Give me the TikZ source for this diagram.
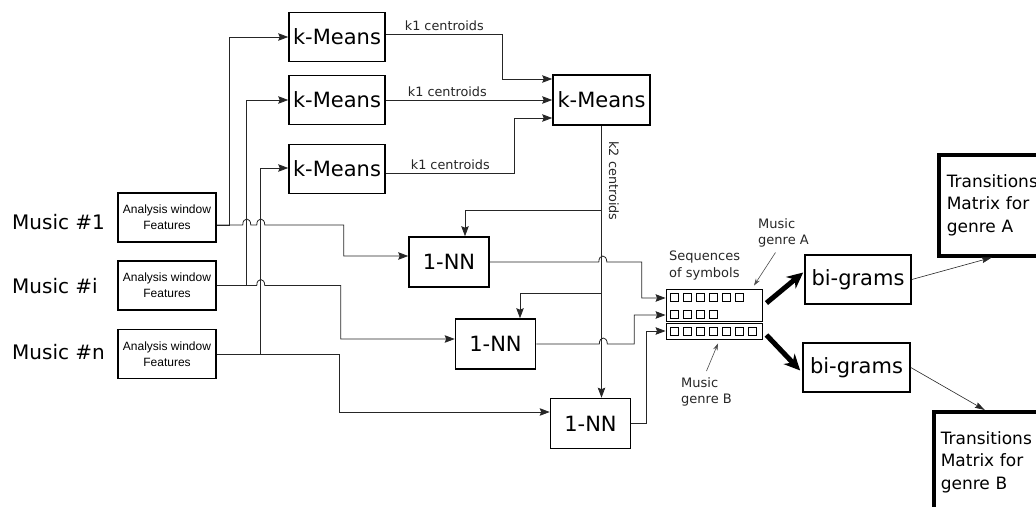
\documentclass[tikz,border=0pt]{standalone}
\usepackage{fontspec}
\setmainfont{DejaVu Sans}
\newfontfamily\arialfont{Liberation Sans}
\usetikzlibrary{arrows.meta}

% small bridge where a line jumps over another one
\newcommand{\hop}{.. controls +(0,-8) and +(0,-8) .. ++(8,0)}

\begin{document}
\begin{tikzpicture}[x=1pt,y=-1pt]
\tikzset{
  featbox/.style={draw=black,line width=1.5pt,minimum width=98pt,minimum height=49pt,align=center,inner sep=1pt,font=\arialfont\fontsize{12}{16}\selectfont},
  procbox/.style={draw=black,line width=1.6pt,minimum height=49pt,inner sep=1pt,font=\fontsize{21}{25}\selectfont},
  musiclbl/.style={anchor=west,inner sep=0pt,font=\fontsize{20}{24}\selectfont},
  smalllbl/.style={inner sep=1pt,font=\fontsize{12.8}{16}\selectfont,text=black!85},
  notelbl/.style={anchor=north west,align=left,inner sep=0pt,font=\fontsize{13}{16.5}\selectfont,text=black!85},
  matbox/.style={draw=black,line width=3.5pt,anchor=north west,text width=96pt,minimum height=101pt,align=left,inner xsep=8pt,font=\fontsize{17}{22.5}\selectfont},
  seqbox/.style={draw=black,line width=0.9pt,minimum width=96pt,inner sep=0pt},
  symbox/.style={draw=black,line width=0.9pt,minimum size=8pt,inner sep=0pt},
  link/.style={draw=black!85,line width=0.8pt},
  flow/.style={link,-{Stealth[length=10pt,width=7.5pt,inset=1.5pt]}},
  thinflow/.style={draw=black!85,line width=0.6pt,-{Stealth[length=10pt,width=6pt,inset=1.5pt]}},
  pointer/.style={draw=black!70,line width=0.6pt,-{Stealth[length=7pt,width=4.5pt]}},
  fatarrow/.style={draw=black,line width=5pt,-{Stealth[length=16pt,width=15pt,inset=5pt]}}
}
\useasboundingbox (0,0) rectangle (1036,506);

% inputs
\node[musiclbl] (mus1) at (12,222) {Music \#1};
\node[musiclbl] (musi) at (12,286) {Music \#i};
\node[musiclbl] (musn) at (12,352) {Music \#n};
\node[featbox] (feat1) at (167,217.5) {Analysis window\\Features};
\node[featbox] (feati) at (167,285.5) {Analysis window\\Features};
\node[featbox] (featn) at (167,354) {Analysis window\\Features};

% clustering
\node[procbox,minimum width=96pt] (km1) at (337,37) {k-Means};
\node[procbox,minimum width=96pt] (km2) at (337,100) {k-Means};
\node[procbox,minimum width=96pt] (km3) at (337,169) {k-Means};
\node[procbox,minimum width=97pt,minimum height=50pt] (kmtop) at (601.5,100) {k-Means};

% nearest neighbour
\node[procbox,minimum width=80pt,minimum height=50pt] (nn1) at (449,262) {1-NN};
\node[procbox,minimum width=80pt,minimum height=50pt] (nn2) at (495.5,344) {1-NN};
\node[procbox,minimum width=80pt,minimum height=50pt] (nn3) at (590.5,423.5) {1-NN};

% symbol sequences
\node[seqbox,minimum height=32pt] (seqA) at (714,305) {};
\node[seqbox,minimum height=16pt] (seqB) at (714,331) {};
\foreach \i in {0,...,5} \node[symbox] (sa\i) at (674+13*\i,297) {};
\foreach \i in {0,...,3} \node[symbox] (sb\i) at (674+13*\i,314) {};
\foreach \i in {0,...,6} \node[symbox] (sc\i) at (674+13*\i,331) {};
\node[notelbl] (seqlbl) at (669,251) {Sequences\\of symbols};
\node[notelbl] (genA) at (758,218) {Music\\genre A};
\node[notelbl] (genB) at (681,377) {Music\\genre B};

% models
\node[procbox,minimum width=106pt] (bgA) at (858,279.5) {bi-grams};
\node[procbox,minimum width=107pt] (bgB) at (856.5,367.5) {bi-grams};
\node[matbox] (matA) at (937,153) {Transitions\\Matrix for\\genre A};
\node[matbox,inner xsep=7pt] (matB) at (932,410) {Transitions\\Matrix for\\genre B};

% features to first k-Means layer
\draw[flow] ([yshift=-7.5pt]feat1.east) -- ++(13,0) |- (km1.west);
\draw[flow] (feati.east) -- ++(30,0) |- (km2.west);
\draw[flow] (featn.east) -- ++(44,0) |- ([yshift=1pt]km3.west);

% features to 1-NN
\draw[flow] ([yshift=-7.5pt]feat1.east) -- ++(26,0) \hop -- ++(6,0) \hop -- ++(79,0) |- ([yshift=6pt]nn1.west);
\draw[flow] (feati.east) -- ++(40,0) \hop -- ++(76,0) |- ([yshift=5pt]nn2.west);
\draw[flow] (featn.east) -- ++(123,0) |- ([yshift=11.5pt]nn3.west);

% k1 centroids
\draw[flow] ([yshift=3pt]km1.east) -- node[smalllbl,above=2pt] {k1 centroids} ++(117,0) |- ([yshift=21pt]kmtop.west);
\draw[flow] (km2.east) -- node[smalllbl,above=2pt,pos=0.37] {k1 centroids} (kmtop.west);
\draw[flow] ([yshift=-4pt]km3.east) -- node[smalllbl,above=2pt] {k1 centroids} ++(129,0) |- ([yshift=-18pt]kmtop.west);

% k2 centroids
\node[smalllbl,rotate=-90] (k2lbl) at (614,181) {k2 centroids};
\coordinate (split1) at (kmtop.south |- 0,210);
\coordinate (split2) at (kmtop.south |- 0,293);
\draw[flow] (kmtop.south) -- (kmtop.south |- nn3.north);
\draw[flow] (split1) -| ([xshift=16pt]nn1.north);
\draw[flow] (split2) -| ([xshift=24.5pt]nn2.north);

% 1-NN to sequences
\draw[flow] (nn1.east) -- ++(109,0) \hop -- ++(35,0) |- ([yshift=7pt]seqA.west);
\draw[flow] (nn2.east) -- ++(63,0) \hop -- ++(27,0) |- ([yshift=-10pt]seqA.west);
\draw[flow] (nn3.east) -- ++(15,0) |- (seqB.west);

\draw[pointer] ([xshift=-8pt,yshift=-5pt]genA.south) -- ([xshift=40pt,yshift=3pt]seqA.north);
\draw[pointer] ([yshift=6pt]genB.north) -- ([xshift=4pt,yshift=-4pt]seqB.south);

% genres
\draw[fatarrow] ([xshift=4pt,yshift=2pt]seqA.east) -- ([xshift=-1pt,yshift=7pt]bgA.west);
\draw[fatarrow] ([xshift=4pt,yshift=-4pt]seqB.east) -- ([xshift=-2pt,yshift=-3pt]bgB.west);
\draw[thinflow] (bgA.east) -- ([xshift=-3pt]matA.south);
\draw[thinflow] (bgB.east) -- ([xshift=-4pt]matB.north);
\end{tikzpicture}
\end{document}
